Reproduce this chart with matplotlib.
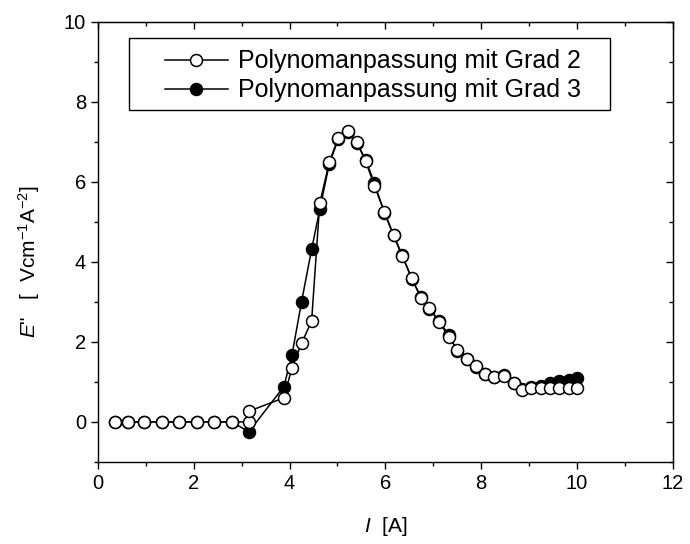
import matplotlib
matplotlib.use("Agg")
import matplotlib.pyplot as plt
from matplotlib.patches import Rectangle
from matplotlib.ticker import MultipleLocator

plt.rcParams['font.family'] = ['Liberation Sans', 'DejaVu Sans']
plt.rcParams['mathtext.fontset'] = 'custom'
plt.rcParams['mathtext.rm'] = 'Liberation Sans'
plt.rcParams['mathtext.it'] = 'Liberation Sans:italic'

# Strom I [A]
strom = [0.35, 0.62, 0.97, 1.33, 1.70, 2.06, 2.42, 2.79, 3.15,
         3.88, 4.05, 4.25, 4.46, 4.63, 4.83, 5.02, 5.21, 5.40, 5.59,
         5.77, 5.98, 6.17, 6.35, 6.55, 6.74, 6.92, 7.12, 7.33, 7.50,
         7.71, 7.90, 8.07, 8.27, 8.48, 8.68, 8.85, 9.05, 9.24, 9.44,
         9.63, 9.84, 10.01]

# Polynom 2. Grades (am Knick bei 3.15 zwei Werte)
strom_g2 = strom[:9] + [3.16] + strom[9:]
e_grad2 = [0, 0, 0, 0, 0, 0, 0, 0, 0.0, 0.27,
           0.60, 1.35, 1.96, 2.52, 5.46, 6.50, 7.10, 7.27, 7.00, 6.51,
           5.90, 5.25, 4.66, 4.14, 3.60, 3.10, 2.84, 2.50, 2.12, 1.80,
           1.56, 1.39, 1.20, 1.12, 1.14, 0.98, 0.80, 0.85, 0.85, 0.85,
           0.85, 0.85, 0.85]

# Polynom 3. Grades
e_grad3 = [0, 0, 0, 0, 0, 0, 0, 0, -0.25,
           0.88, 1.67, 3.00, 4.31, 5.31, 6.45, 7.08, 7.25, 6.98, 6.55,
           5.97, 5.22, 4.68, 4.17, 3.58, 3.13, 2.82, 2.52, 2.16, 1.78,
           1.58, 1.38, 1.20, 1.12, 1.17, 0.98, 0.82, 0.86, 0.90, 0.96,
           1.01, 1.05, 1.10]

fig = plt.figure(figsize=(6.9, 5.44), dpi=100)
ax = fig.add_axes([0.142, 0.151, 0.833, 0.809])

l3, = ax.plot(strom, e_grad3, '-o', color='black', mfc='black', mec='black',
              ms=8.6, mew=1.1, lw=1.1, label='Polynomanpassung mit Grad 3')
l2, = ax.plot(strom_g2, e_grad2, '-o', color='black', mfc='white', mec='black',
              ms=8.6, mew=1.1, lw=1.1, label='Polynomanpassung mit Grad 2')

ax.set_xlim(0, 12)
ax.set_ylim(-1, 10)
ax.xaxis.set_major_locator(MultipleLocator(2))
ax.xaxis.set_minor_locator(MultipleLocator(1))
ax.yaxis.set_major_locator(MultipleLocator(2))
ax.yaxis.set_minor_locator(MultipleLocator(1))
ax.tick_params(which='major', direction='out', length=5, width=1, labelsize=14.5)
ax.tick_params(which='minor', direction='out', length=3, width=1)

# gespiegelte Achsen oben und rechts, Ticks nach innen, ohne Beschriftung
top = ax.secondary_xaxis('top')
top.xaxis.set_major_locator(MultipleLocator(2))
top.xaxis.set_minor_locator(MultipleLocator(1))
top.tick_params(which='major', direction='in', length=5, width=1, labeltop=False)
top.tick_params(which='minor', direction='in', length=3, width=1)
right = ax.secondary_yaxis('right')
right.yaxis.set_major_locator(MultipleLocator(2))
right.yaxis.set_minor_locator(MultipleLocator(1))
right.tick_params(which='major', direction='in', length=5, width=1, labelright=False)
right.tick_params(which='minor', direction='in', length=3, width=1)

for s in ax.spines.values():
    s.set_linewidth(1.0)

ax.set_xlabel(r'$I$  [A]', fontsize=15, labelpad=16)
ax.set_ylabel(r'$E$"   [  Vcm$^{-1}$A$^{-2}$]', fontsize=15)
ax.yaxis.set_label_coords(-0.097, 0.456)

# Legende ohne eigenen Rahmen, Rahmen separat als Rechteck
leg = ax.legend(handles=[l2, l3], loc='upper left', bbox_to_anchor=(0.1165, 0.9375),
                fontsize=18, frameon=False, handlelength=2.52, handletextpad=0.4,
                borderpad=0, borderaxespad=0, labelspacing=0.2)
ax.add_patch(Rectangle((0.054, 0.80), 0.836, 0.164, transform=ax.transAxes,
                       fill=False, edgecolor='black', linewidth=1.0, zorder=5))

fig.savefig('out.png', dpi=100)
